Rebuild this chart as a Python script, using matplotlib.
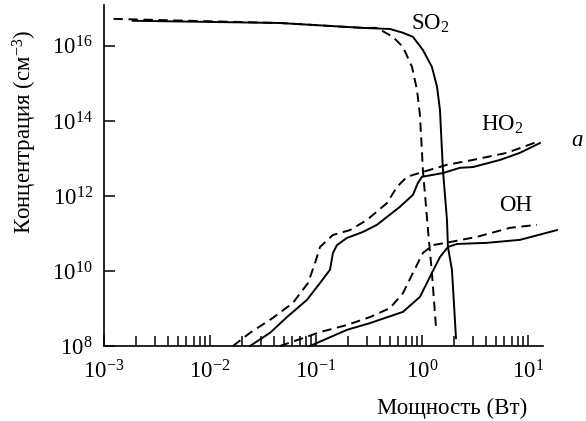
import numpy as np
from matplotlib import pyplot as plt
from matplotlib.ticker import FixedLocator, LogLocator, NullFormatter

plt.rcParams['font.family'] = ['Liberation Serif', 'DejaVu Serif']
plt.rcParams['mathtext.fontset'] = 'custom'
plt.rcParams['mathtext.rm'] = 'Liberation Serif'
plt.rcParams['mathtext.it'] = 'Liberation Serif:italic'

# values, as log10(power) / log10(concentration)
so2_x = [-2.73, -1.34, -0.56, -0.30, -0.18, -0.085, 0.009, 0.094, 0.142, 0.170, 0.179, 0.198, 0.236, 0.245, 0.283, 0.321]
so2_y = [16.67, 16.61, 16.48, 16.45, 16.35, 16.24, 15.89, 15.44, 14.91, 14.29, 13.76, 12.69, 11.36, 10.64, 10.03, 8.21]
so2d_x = [-2.91, -1.34, -0.56, -0.425, -0.274, -0.179, -0.094, -0.047, -0.019, 0.009, 0.057, 0.094, 0.132]
so2d_y = [16.72, 16.61, 16.48, 16.48, 16.24, 15.97, 15.44, 14.83, 14.16, 12.69, 11.09, 9.95, 8.51]

ho2_x = [-1.623, -1.434, -1.274, -1.085, -0.962, -0.868, -0.840, -0.802, -0.708, -0.557, -0.425, -0.208, -0.085, -0.038, 0.0, 0.198, 0.358, 0.481, 0.736, 0.925, 1.113]
ho2_y = [8.0, 8.35, 8.77, 9.23, 9.68, 10.03, 10.48, 10.69, 10.88, 11.04, 11.23, 11.71, 12.03, 12.35, 12.51, 12.61, 12.75, 12.77, 12.96, 13.15, 13.41]
ho2d_x = [-1.783, -1.623, -1.406, -1.217, -1.075, -1.009, -0.962, -0.840, -0.679, -0.519, -0.330, -0.236, -0.142, 0.009, 0.236, 0.481, 0.802, 1.085]
ho2d_y = [8.0, 8.35, 8.75, 9.15, 9.68, 10.21, 10.64, 10.96, 11.09, 11.36, 11.81, 12.24, 12.51, 12.64, 12.83, 12.96, 13.15, 13.44]

oh_x = [-1.057, -0.708, -0.491, -0.179, -0.019, 0.094, 0.170, 0.245, 0.330, 0.613, 0.925, 1.274]
oh_y = [8.0, 8.43, 8.61, 8.91, 9.31, 9.95, 10.37, 10.64, 10.72, 10.75, 10.83, 11.09]
ohd_x = [-1.340, -1.123, -0.962, -0.708, -0.491, -0.302, -0.179, -0.085, 0.009, 0.104, 0.264, 0.519, 0.830, 1.085]
ohd_y = [8.0, 8.21, 8.37, 8.56, 8.77, 9.01, 9.41, 9.95, 10.48, 10.69, 10.77, 10.91, 11.15, 11.23]

fig = plt.figure(figsize=(5.86, 4.21), dpi=100)
ax = fig.add_axes([104/586, 75/421, 439/586, 341/421])

lw = 1.4
for xs, ys in [(so2_x, so2_y), (ho2_x, ho2_y), (oh_x, oh_y)]:
	ax.plot(10**np.array(xs), 10**np.array(ys), 'k-', lw=lw, clip_on=False)
for xs, ys in [(so2d_x, so2d_y), (ho2d_x, ho2d_y), (ohd_x, ohd_y)]:
	ln, = ax.plot(10**np.array(xs), 10**np.array(ys), 'k--', lw=lw, clip_on=False)
	ln.set_dashes((4.8, 2.9))

ax.set_xscale('log')
ax.set_yscale('log')
ax.set_xlim(1e-3, 10**1.142)
ax.set_ylim(1e8, 10**17.09)

ax.spines['top'].set_visible(False)
ax.spines['right'].set_visible(False)
ax.spines['left'].set_linewidth(1.2)
ax.spines['bottom'].set_linewidth(1.2)

ax.yaxis.set_major_locator(FixedLocator([1e8, 1e10, 1e12, 1e14, 1e16]))
ax.yaxis.set_minor_locator(FixedLocator([]))
ax.set_yticklabels([r'$10^{8}$', r'$10^{10}$', r'$10^{12}$', r'$10^{14}$', r'$10^{16}$'])
ax.xaxis.set_major_locator(FixedLocator([1e-3, 1e-2, 1e-1, 1e0, 1e1]))
ax.xaxis.set_minor_locator(LogLocator(base=10, subs=np.arange(2, 10)))
ax.xaxis.set_minor_formatter(NullFormatter())
ax.set_xticklabels([r'$10^{-3}$', r'$10^{-2}$', r'$10^{-1}$', r'$10^{0}$', r'$10^{1}$'])

ax.tick_params(axis='both', which='major', direction='in', length=8, width=1.1, labelsize=16.5)
ax.tick_params(axis='y', which='major', pad=8)
ax.tick_params(axis='x', which='minor', direction='in', length=7, width=1.1)
ax.tick_params(axis='x', which='major', pad=10)

def lbl(px, py, s, size=16.5, **kw):
	fig.text(px/586, 1-py/421, s, fontsize=size, ha='center', va='center', **kw)

lbl(452, 408, 'Мощность (Вт)')
lbl(25, 132, r'Концентрация (см$^{-3}$)', rotation=90)
lbl(430, 24, r'SO$_2$')
lbl(502, 125, r'HO$_2$')
lbl(516, 205, 'OH')
lbl(577, 141, 'a', style='italic')

plt.savefig('out.png', dpi=100)
